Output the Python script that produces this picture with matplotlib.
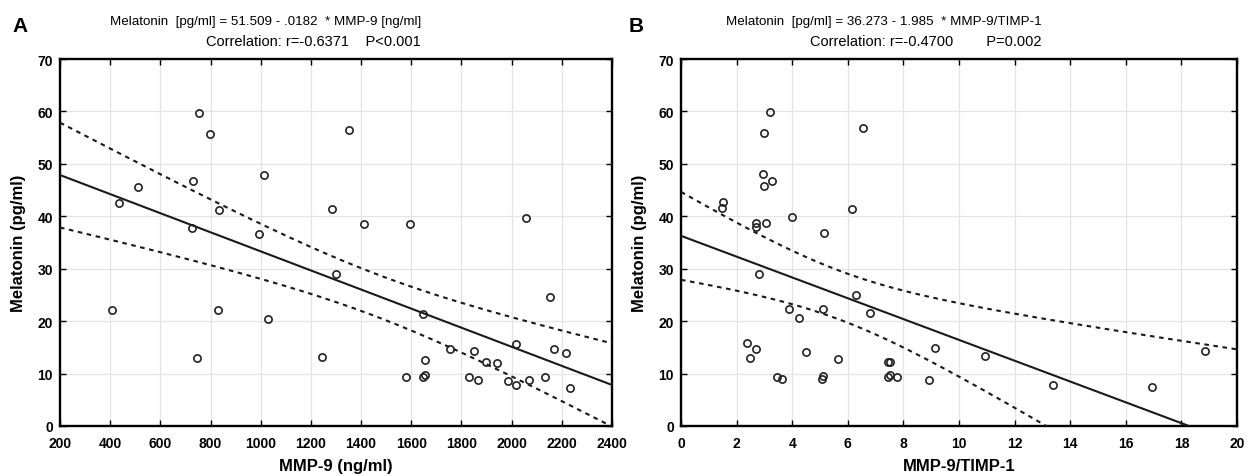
import numpy as np
import matplotlib
matplotlib.use("Agg")
import matplotlib.pyplot as plt

plt.rcParams['font.family'] = ['Liberation Sans', 'DejaVu Sans']

# --- DATA: panel A (MMP-9 vs melatonin) ---
mmp9 = [406, 434, 512, 726, 731, 745, 755, 798, 828, 835,
        994, 1013, 1029, 1243, 1286, 1300, 1351, 1413, 1579, 1594,
        1645, 1648, 1654, 1654, 1754, 1831, 1849, 1867, 1897, 1942,
        1986, 2019, 2019, 2059, 2069, 2133, 2152, 2169, 2218, 2232]
mel_a = [22.2, 42.6, 45.5, 37.8, 46.7, 12.9, 59.7, 55.6, 22.2, 41.2,
         36.7, 47.8, 20.5, 13.2, 41.4, 28.9, 56.5, 38.5, 9.3, 38.5,
         9.3, 21.3, 12.6, 9.7, 14.7, 9.3, 14.3, 8.8, 12.2, 12.1,
         8.6, 7.8, 15.7, 39.7, 8.7, 9.3, 24.7, 14.7, 14.0, 7.3]
coef_a = (51.509, -0.0182)

# --- DATA: panel B (MMP-9/TIMP-1 vs melatonin) ---
ratio = [3.21, 2.99, 6.55, 2.94, 3.28, 3.00, 1.52, 1.47, 6.15, 3.99,
         2.71, 3.04, 2.71, 5.15, 2.79, 6.28, 6.81, 3.89, 5.09, 4.23,
         2.39, 2.69, 2.49, 4.49, 5.63, 7.45, 7.53, 9.12, 3.46, 3.62,
         5.09, 5.07, 7.43, 7.53, 7.77, 8.91, 10.93, 13.38, 16.93, 18.85]
mel_b = [59.9, 55.8, 56.8, 48.0, 46.8, 45.7, 42.7, 41.6, 41.4, 39.9,
         38.7, 38.7, 38.0, 36.9, 29.0, 24.9, 21.5, 22.4, 22.4, 20.6,
         15.8, 14.7, 13.0, 14.1, 12.7, 12.2, 12.2, 14.8, 9.4, 8.9,
         9.5, 8.9, 9.4, 9.8, 9.4, 8.7, 13.3, 7.8, 7.4, 14.4]
coef_b = (36.273, -1.985)

T_CRIT = 2.024  # t(0.975, df=38)

panels = [
    dict(x=mmp9, y=mel_a, coef=coef_a, xlim=(200, 2400), xticks=np.arange(200, 2401, 200),
         xlabel="MMP-9 (ng/ml)", letter="A",
         line1="Melatonin  [pg/ml] = 51.509 - .0182  * MMP-9 [ng/ml]",
         line2="Correlation: r=-0.6371    P<0.001"),
    dict(x=ratio, y=mel_b, coef=coef_b, xlim=(0, 20), xticks=np.arange(0, 21, 2),
         xlabel="MMP-9/TIMP-1", letter="B",
         line1="Melatonin  [pg/ml] = 36.273 - 1.985  * MMP-9/TIMP-1",
         line2="Correlation: r=-0.4700        P=0.002"),
]

W, H = 1250, 477
fig = plt.figure(figsize=(W / 100, H / 100), dpi=100)

ax_boxes = [(60, 612), (681, 1237)]
text_right = [421, 1042]
letter_x = [12, 629]
top_px, bot_px = 60, 427

for p, (l, r), tx, lx in zip(panels, ax_boxes, text_right, letter_x):
    ax = fig.add_axes([l / W, 1 - bot_px / H, (r - l) / W, (bot_px - top_px) / H])
    x = np.array(p['x'], dtype=float)
    y = np.array(p['y'], dtype=float)
    b0, b1 = p['coef']

    # regression line + 95% confidence band
    xs = np.linspace(p['xlim'][0], p['xlim'][1], 300)
    yfit = b0 + b1 * xs
    resid = y - (b0 + b1 * x)
    n = len(x)
    s = np.sqrt(np.sum(resid ** 2) / (n - 2))
    sxx = np.sum((x - x.mean()) ** 2)
    half = T_CRIT * s * np.sqrt(1 / n + (xs - x.mean()) ** 2 / sxx)

    ax.plot(xs, yfit, color='#1a1a1a', lw=1.5, zorder=3)
    ax.plot(xs, yfit + half, color='#1a1a1a', lw=1.5, ls=(0, (2.2, 2.2)), zorder=3)
    ax.plot(xs, yfit - half, color='#1a1a1a', lw=1.5, ls=(0, (2.2, 2.2)), zorder=3)
    ax.plot(x, y, 'o', mfc='none', mec='#222222', ms=5.2, mew=1.2, zorder=4)

    ax.set_xlim(*p['xlim'])
    ax.set_ylim(0, 70)
    ax.set_xticks(p['xticks'])
    ax.set_yticks(np.arange(0, 71, 10))
    ax.grid(True, color='#e4e4e4', lw=0.9)
    ax.set_axisbelow(True)
    ax.tick_params(direction='in', top=True, right=True, length=4, width=1,
                   labelsize=10)
    ax.tick_params(axis='x', pad=7)
    ax.tick_params(axis='y', pad=5)
    for lab in ax.get_xticklabels() + ax.get_yticklabels():
        lab.set_fontweight('bold')
    for sp in ax.spines.values():
        sp.set_linewidth(1.7)

    ax.set_xlabel(p['xlabel'], fontsize=12, fontweight='bold', labelpad=6)
    ax.set_ylabel("Melatonin (pg/ml)", fontsize=12, fontweight='bold', labelpad=8)

    fig.text(tx / W, 1 - 22 / H, p['line1'], ha='right', va='center', fontsize=9.6)
    fig.text(tx / W, 1 - 42 / H, p['line2'], ha='right', va='center', fontsize=10.5)
    fig.text(lx / W, 1 - 26 / H, p['letter'], ha='left', va='center',
             fontsize=15, fontweight='bold')

fig.savefig('out.png', dpi=100)
